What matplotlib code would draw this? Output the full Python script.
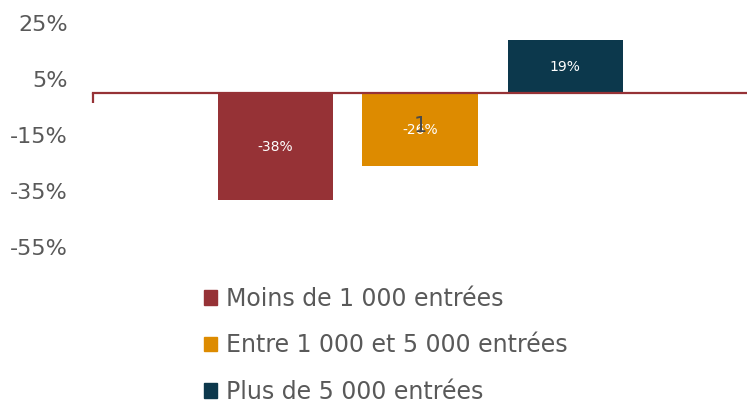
import matplotlib.pyplot as plt
from matplotlib.patches import Patch

# Data
series = ['Moins de 1 000 entrées', 'Entre 1 000 et 5 000 entrées', 'Plus de 5 000 entrées']
values = [-38, -26, 19]
colors = ['#963236', '#DD8B00', '#0C384C']
yticks = [25, 5, -15, -35, -55]

plt.rcParams['font.family'] = ['DejaVu Sans']
grey = '#595959'

fig = plt.figure(figsize=(7.47, 4.03), dpi=100)
ax = fig.add_axes([0.1245, 0.3859, 0.8755, 0.5558])

positions = [0.279, 0.5, 0.722]
width = 0.176
bars = ax.bar(positions, values, width=width, color=colors)
for b, v in zip(bars, values):
    ax.text(b.get_x() + b.get_width() / 2, v / 2, f'{v}%', ha='center', va='center',
            color='white', fontsize=10)
# stray category label visible in the original
ax.text(0.5, -11.5, '1', ha='center', va='center', color='#4a4a4a', fontsize=15)

ax.set_xlim(0, 1)
ax.set_ylim(-55, 25)
ax.set_yticks(yticks)
ax.set_yticklabels([f'{t}%' for t in yticks], fontsize=16, color=grey)
ax.tick_params(axis='y', length=0, pad=18)

for s in ['top', 'right', 'left']:
    ax.spines[s].set_visible(False)
ax.spines['bottom'].set_position(('data', 0))
ax.spines['bottom'].set_color('#963236')
ax.spines['bottom'].set_linewidth(1.6)
ax.set_xticks([0])
ax.set_xticklabels([''])
ax.tick_params(axis='x', direction='out', length=7, width=1.6, color='#963236')

handles = [Patch(color=c) for c in colors]
fig.legend(handles, series, loc='upper left', bbox_to_anchor=(0.273, 0.288),
           frameon=False, fontsize=17, labelcolor=grey, handlelength=0.55,
           handleheight=0.55, handletextpad=0.4, labelspacing=0.95,
           borderpad=0, borderaxespad=0)

fig.savefig('out.png', dpi=100)
